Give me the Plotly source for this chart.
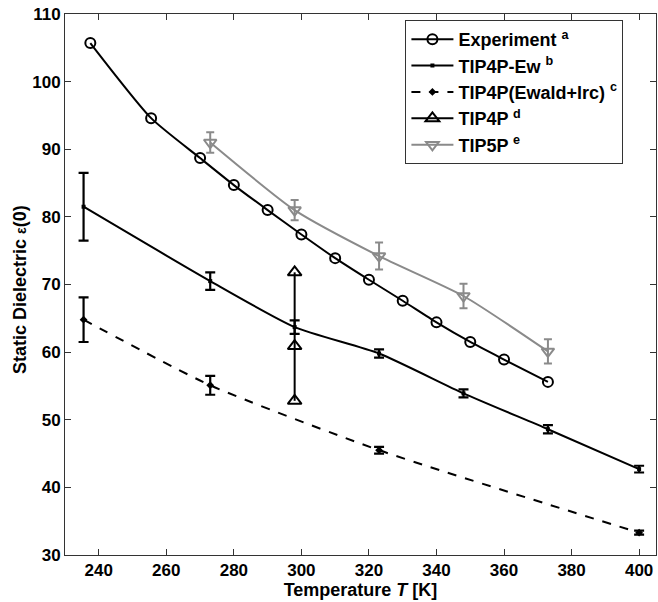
import plotly.graph_objects as go

# ---- data ----
exp_T = [237.5, 255.5, 270, 280, 290, 300, 310, 320, 330, 340, 350, 360, 373]
exp_eps = [105.7, 94.6, 88.7, 84.7, 81.0, 77.4, 73.9, 70.7, 67.6, 64.4, 61.5, 58.9, 55.6]

ew_T = [235.5, 273, 298, 323, 348, 373, 400]
ew_eps = [81.5, 70.5, 63.7, 59.8, 53.9, 48.6, 42.7]
ew_err = [5.0, 1.3, 1.0, 0.6, 0.6, 0.6, 0.5]

lrc_T = [235.5, 273, 323, 400]
lrc_eps = [64.8, 55.1, 45.5, 33.3]
lrc_err = [3.3, 1.4, 0.5, 0.3]

tip4p_T = [298, 298, 298]
tip4p_eps = [71.8, 60.9, 52.8]

tip5p_T = [273, 298, 323, 348, 373]
tip5p_eps = [91.0, 81.0, 74.2, 68.3, 60.1]
tip5p_err = [1.5, 1.5, 2.0, 1.8, 1.8]

x_ticks = [240, 260, 280, 300, 320, 340, 360, 380, 400]
y_ticks = [30, 40, 50, 60, 70, 80, 90, 100, 110]

FONT = "Liberation Sans, Arial, sans-serif"
GREY = "#8a8a8a"

fig = go.Figure()

fig.add_trace(go.Scatter(
    x=exp_T, y=exp_eps, mode="lines+markers", name="Experiment <sup>a</sup>",
    line=dict(color="black", width=2, shape="spline", smoothing=0.6),
    marker=dict(symbol="circle-open", size=10, color="black", line=dict(width=2)),
))
fig.add_trace(go.Scatter(
    x=ew_T, y=ew_eps, mode="lines+markers", name="TIP4P-Ew <sup>b</sup>",
    line=dict(color="black", width=2, shape="spline", smoothing=0.6),
    marker=dict(symbol="square", size=4, color="black"),
    error_y=dict(type="data", array=ew_err, color="black", thickness=2.2, width=5),
))
fig.add_trace(go.Scatter(
    x=lrc_T, y=lrc_eps, mode="lines+markers", name="TIP4P(Ewald+lrc) <sup>c</sup>",
    line=dict(color="black", width=2, dash="dash", shape="spline", smoothing=0.6),
    marker=dict(symbol="diamond", size=6, color="black"),
    error_y=dict(type="data", array=lrc_err, color="black", thickness=2.2, width=5),
))
fig.add_trace(go.Scatter(
    x=tip4p_T, y=tip4p_eps, mode="lines+markers", name="TIP4P <sup>d</sup>",
    line=dict(color="black", width=2),
    marker=dict(symbol="triangle-up-open", size=12, color="black", line=dict(width=2)),
))
fig.add_trace(go.Scatter(
    x=tip5p_T, y=tip5p_eps, mode="lines+markers", name="TIP5P <sup>e</sup>",
    line=dict(color=GREY, width=2, shape="spline", smoothing=0.6),
    marker=dict(symbol="triangle-down-open", size=11, color=GREY, line=dict(width=2)),
    error_y=dict(type="data", array=tip5p_err, color=GREY, thickness=2, width=4),
))

axis_common = dict(
    showline=True, linecolor="#333333", linewidth=1, mirror="ticks",
    ticks="inside", ticklen=6, tickcolor="#333333", tickwidth=1,
    showgrid=False, zeroline=False,
    tickfont=dict(family=FONT, size=17, color="black", weight="bold"),
)

fig.update_xaxes(
    range=[230, 405], tickvals=x_ticks, ticktext=[str(v) for v in x_ticks],
    title=dict(text="<b>Temperature <i>T</i> [K]</b>", font=dict(family=FONT, size=18, color="black"), standoff=3),
    **axis_common,
)
fig.update_yaxes(
    range=[30, 110], tickvals=y_ticks, ticktext=[str(v) for v in y_ticks],
    **axis_common,
)

fig.add_annotation(
    text="<b>Static Dielectric <span style='font-size:14px'>ε</span>(0)</b>",
    xref="paper", yref="paper", x=-0.076, y=0.49,
    xanchor="center", yanchor="middle", textangle=-90, showarrow=False,
    font=dict(family=FONT, size=18, color="black"),
)

fig.update_layout(
    width=658, height=602,
    margin=dict(l=65, r=2, t=14, b=47),
    paper_bgcolor="white", plot_bgcolor="white",
    font=dict(family=FONT, color="black"),
    legend=dict(
        x=0.576, y=0.989, xanchor="left", yanchor="top",
        bgcolor="white", bordercolor="#333333", borderwidth=1,
        font=dict(family=FONT, size=18, color="black", weight="bold"),
        itemwidth=42, tracegroupgap=0,
    ),
    showlegend=True,
)

fig.write_html("out.html", config={"displayModeBar": False},
               post_script="document.body.style.margin='0';")
